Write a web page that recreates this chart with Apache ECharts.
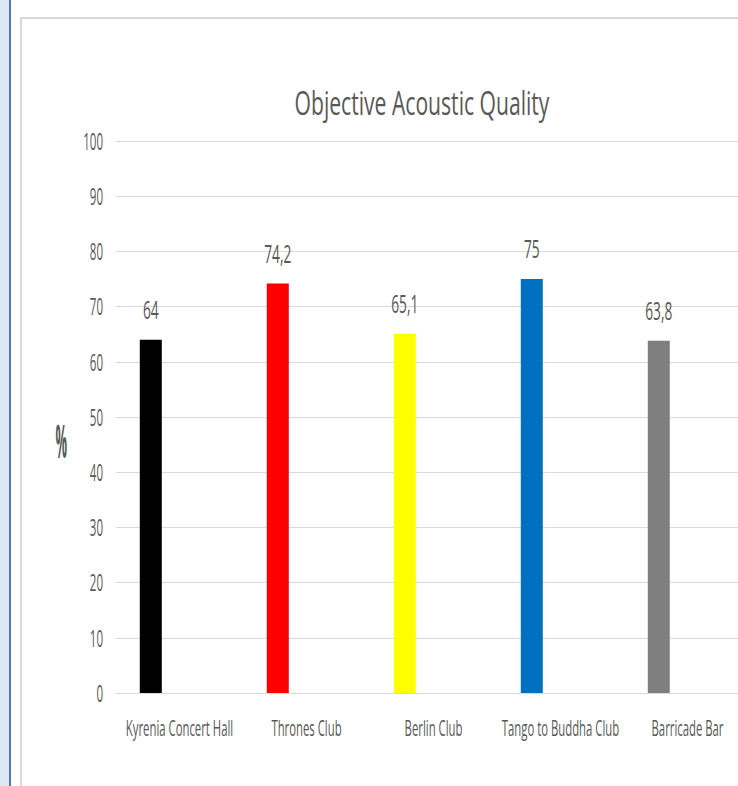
<!DOCTYPE html>
<html>
<head>
<meta charset="utf-8">
<script src="https://cdn.jsdelivr.net/npm/echarts@6/dist/echarts.min.js"></script>
<style>
  html, body { margin: 0; padding: 0; background: #fff; }
  #chart { width: 738px; height: 786px; }
</style>
</head>
<body>
<div id="chart"></div>
<script>
const venues = ['Kyrenia Concert Hall', 'Thrones Club', 'Berlin Club', 'Tango to Buddha Club', 'Barricade Bar'];
const quality = [64, 74.2, 65.1, 75, 63.8];
const barColors = ['#000000', '#ff0000', '#ffff00', '#0070c0', '#7f7f7f'];
const yTicks = { min: 0, max: 100, step: 10 };

const font = '"Open Sans"';
const textGrey = '#595959';

// the original uses a tall, condensed face: squeeze each text horizontally by font size
const squeeze = { 33: 0.64, 21: 0.54, 25: 0.55, 23: 0.5, 46: 0.28 };

const chart = echarts.init(document.getElementById('chart'), null, { renderer: 'svg' });

function condenseTexts() {
    document.querySelectorAll('#chart svg text').forEach(t => {
        if (t.dataset.squeezed) return;
        const m = (t.getAttribute('style') || '').match(/(\d+(?:\.\d+)?)px/);
        const s = m && squeeze[Math.round(parseFloat(m[1]))];
        if (!s) return;
        const x = parseFloat(t.getAttribute('x') || 0);
        const tr = t.getAttribute('transform') || '';
        t.setAttribute('transform', `${tr} translate(${x} 0) scale(${s} 1) translate(${-x} 0)`);
        t.dataset.squeezed = '1';
    });
}
chart.on('finished', condenseTexts);

chart.setOption({
    animation: false,
    backgroundColor: '#fff',
    graphic: [
        { type: 'rect', shape: { x: 0, y: 0, width: 9, height: 786 }, style: { fill: '#dce9f3' }, silent: true },
        { type: 'rect', shape: { x: 9, y: 0, width: 2, height: 786 }, style: { fill: '#4f77b0' }, silent: true },
        { type: 'rect', shape: { x: 21, y: 18, width: 740, height: 800 }, style: { fill: 'none', stroke: '#d9d9d9', lineWidth: 2 }, silent: true }
    ],
    title: {
        text: 'Objective Acoustic Quality',
        left: 417,
        top: 80,
        textAlign: 'center',
        textStyle: { fontFamily: font, fontSize: 33, fontWeight: 'normal', color: textGrey }
    },
    grid: { left: 116, width: 635, top: 141, bottom: 93, containLabel: false, outerBoundsMode: 'none' },
    xAxis: {
        type: 'category',
        data: venues,
        axisLine: { lineStyle: { color: '#d9d9d9', width: 1 } },
        axisTick: { show: false },
        axisLabel: { color: textGrey, fontFamily: font, fontSize: 21, margin: 24, interval: 0 }
    },
    yAxis: {
        type: 'value',
        min: yTicks.min,
        max: yTicks.max,
        interval: yTicks.step,
        name: '%',
        nameLocation: 'middle',
        nameRotate: 0,
        nameGap: 49,
        nameMoveOverlap: false,
        nameTextStyle: { fontFamily: font, fontSize: 46, fontWeight: 'bold', color: textGrey, verticalAlign: 'top' },
        axisLine: { show: false },
        axisTick: { show: false },
        splitLine: { lineStyle: { color: '#d9d9d9', width: 1 } },
        axisLabel: { color: textGrey, fontFamily: font, fontSize: 23, margin: 13 }
    },
    series: [
        {
            type: 'bar',
            data: quality.map((v, i) => ({ value: v, itemStyle: { color: barColors[i] } })),
            barWidth: 22,
            barGap: '161%',
            label: {
                show: true,
                position: 'top',
                distance: 18,
                color: textGrey,
                fontFamily: font,
                fontSize: 25,
                formatter: p => String(p.value).replace('.', ',')
            }
        },
        {
            type: 'bar',
            data: venues.map(() => '-'),
            barWidth: 22
        }
    ]
});
condenseTexts();
setTimeout(condenseTexts, 0);
</script>
</body>
</html>
